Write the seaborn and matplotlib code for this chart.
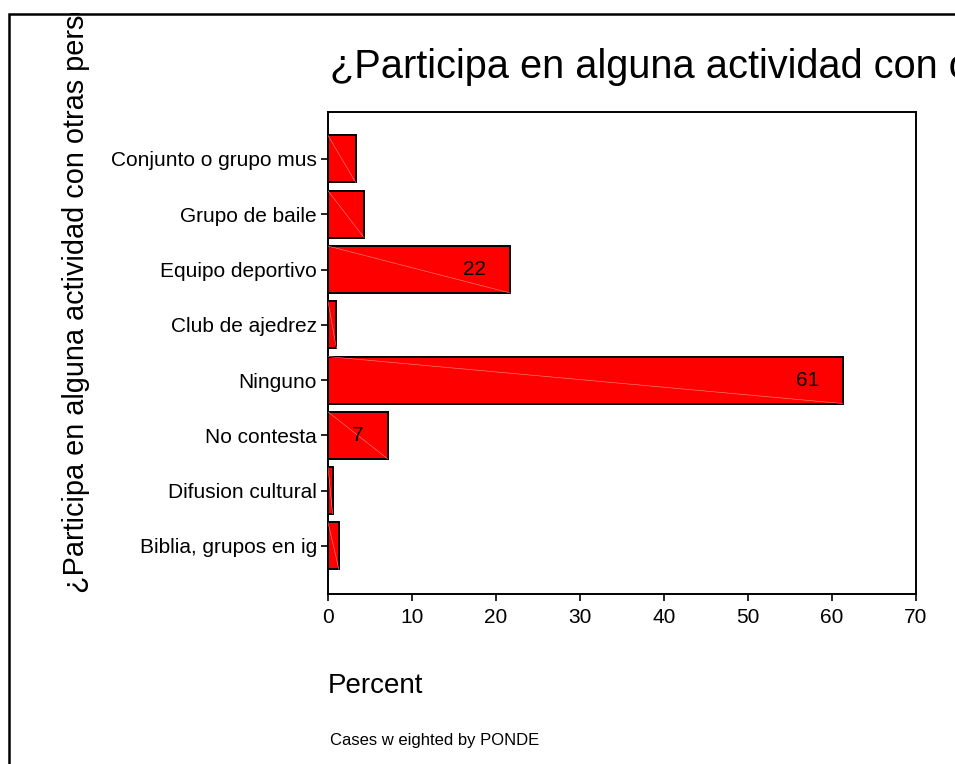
import matplotlib
matplotlib.use("Agg")
import matplotlib.pyplot as plt
from matplotlib.patches import Rectangle
import seaborn as sns

# categories and percentages
categories = ["Conjunto o grupo mus", "Grupo de baile", "Equipo deportivo",
              "Club de ajedrez", "Ninguno", "No contesta",
              "Difusion cultural", "Biblia, grupos en ig"]
percents = [3.3, 4.3, 21.7, 1.0, 61.3, 7.1, 0.55, 1.3]
bar_labels = ["", "", "22", "", "61", "7", "", ""]
x_ticks = [0, 10, 20, 30, 40, 50, 60, 70]

title = "¿Participa en alguna actividad con otras personas?"

sns.set_style("white")
plt.rcParams["font.family"] = ["Liberation Sans", "DejaVu Sans"]
plt.rcParams["text.color"] = "black"

W, H = 955, 764
fig = plt.figure(figsize=(W / 100, H / 100), dpi=100)
ax = fig.add_axes([328 / W, 1 - 594 / H, (916 - 328) / W, (594 - 112) / H])

sns.barplot(x=percents, y=categories, orient="h", color="#ff0000",
            saturation=1, edgecolor="black", linewidth=1.4, width=0.85, ax=ax)

# thin light diagonal inside each bar (SPSS look)
for p in ax.patches:
    x0, y0, w, h = p.get_x(), p.get_y(), p.get_width(), p.get_height()
    ax.plot([x0, x0 + w], [y0, y0 + h], color="#ff8a8a", lw=0.4, zorder=3)

# value labels inside the bars
for i, (v, lab) in enumerate(zip(percents, bar_labels)):
    if lab:
        ax.annotate(lab, xy=(v, i), xytext=(-24, 0), textcoords="offset pixels",
                    ha="right", va="center", fontsize=15, color="black")

ax.set_xlim(0, 70)
ax.set_ylim(len(categories) - 1 + 0.87, -0.85)
ax.set_xticks(x_ticks)
ax.set_xlabel("")
ax.set_ylabel("")
ax.tick_params(axis="both", which="both", direction="out", length=5,
               width=1.2, color="black", labelsize=15, labelcolor="black")
ax.tick_params(axis="y", left=True, pad=3)
ax.tick_params(axis="x", bottom=True, pad=5)
for s in ax.spines.values():
    s.set_visible(True)
    s.set_color("black")
    s.set_linewidth(1.4)

# texts
fig.text(330 / W, 1 - 78 / H, title, fontsize=28.6, ha="left", va="baseline",
         color="black")
ylab = fig.text(76 / W, 1 - 593 / H, title, fontsize=20.8, rotation=90,
                ha="center", va="bottom", color="black")
clip = Rectangle((0, 0), 1, 1 - 13 / H, transform=fig.transFigure,
                 facecolor="none", edgecolor="none")
fig.add_artist(clip)
ylab.set_clip_path(clip)
ylab.set_clip_on(True)

fig.text(328 / W, 1 - 686 / H, "Percent", fontsize=20, ha="left", va="center",
         color="black")
fig.text(330 / W, 1 - 741 / H, "Cases w eighted by PONDE", fontsize=12,
         ha="left", va="center", color="black")

# outer frame of the chart
fig.add_artist(Rectangle((9 / W, -0.5), 2, 1.5 - 14 / H,
                         transform=fig.transFigure, fill=False,
                         edgecolor="black", linewidth=1.8))

fig.savefig("out.png", dpi=100)
